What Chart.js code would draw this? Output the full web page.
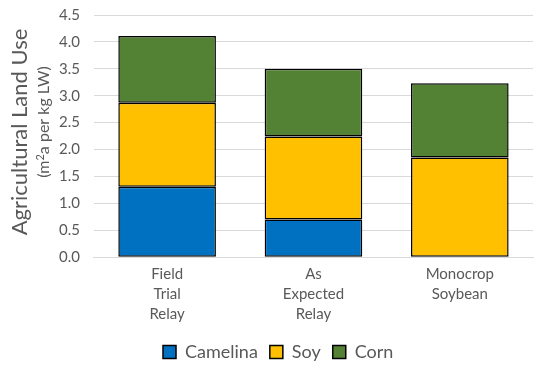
<!DOCTYPE html>
<html><head><meta charset="utf-8">
<script src="https://cdn.jsdelivr.net/npm/chart.js@4/dist/chart.umd.min.js"></script>
<style>html,body{margin:0;padding:0;background:#fff}#wrap{width:550px;height:373px}</style>
</head><body><div id="wrap"><canvas id="c"></canvas></div>
<script>
const categories = [["Field","Trial","Relay"],["As","Expected","Relay"],["Monocrop","Soybean"]];
const camelina = [1.31, 0.70, 0];
const soy = [1.56, 1.54, 1.85];
const corn = [1.24, 1.26, 1.38];
const yTicks = [0,0.5,1,1.5,2,2.5,3,3.5,4,4.5];
const yTitle = "Agricultural Land Use";
const ySub = ["(m", "2", "a per kg LW)"];

const FONT = "Lato, 'Open Sans', sans-serif";
const grey = "#595959";
const LEG_PAD = 12;

const titlePlugin = {
  id: 'ytitle',
  beforeDraw(chart) {
    const lg = chart.legend;
    if (lg) { const w = lg.right - lg.left; lg.left = 163 - LEG_PAD; lg.right = lg.left + w; }
  },
  afterDraw(chart) {
    const ctx = chart.ctx;
    ctx.save();
    ctx.fillStyle = grey;
    ctx.textAlign = 'center';
    ctx.textBaseline = 'middle';
    ctx.translate(20, 132);
    ctx.rotate(-Math.PI/2);
    ctx.font = "22px " + FONT;
    ctx.fillText(yTitle, 0, 0);
    ctx.restore();
    ctx.save();
    ctx.fillStyle = grey;
    ctx.textBaseline = 'middle';
    ctx.translate(44, 122);
    ctx.rotate(-Math.PI/2);
    const f1 = "16px " + FONT, f2 = "11px " + FONT;
    ctx.font = f1; const w0 = ctx.measureText(ySub[0]).width, w2 = ctx.measureText(ySub[2]).width;
    ctx.font = f2; const w1 = ctx.measureText(ySub[1]).width;
    let x = -(w0 + w1 + w2) / 2;
    ctx.textAlign = 'left';
    ctx.font = f1; ctx.fillText(ySub[0], x, 0); x += w0;
    ctx.font = f2; ctx.fillText(ySub[1], x, -4); x += w1;
    ctx.font = f1; ctx.fillText(ySub[2], x, 0);
    ctx.restore();
  }
};

new Chart(document.getElementById('c'), {
  type: 'bar',
  data: {
    labels: categories,
    datasets: [
      {label:'Camelina', data: camelina, backgroundColor:'#0070C0', borderColor:'#000', borderWidth:1.5, borderSkipped:false},
      {label:'Soy', data: soy, backgroundColor:'#FFC000', borderColor:'#000', borderWidth:1.5, borderSkipped:false},
      {label:'Corn', data: corn, backgroundColor:'#548235', borderColor:'#000', borderWidth:1.5, borderSkipped:false}
    ]
  },
  options: {
    responsive: true, maintainAspectRatio: false, animation: false,
    layout: {padding: {left: 45, right: 17, top: 15, bottom: 2}},
    datasets: {bar: {categoryPercentage: 0.667, barPercentage: 1.0}},
    plugins: {
      legend: {position:'bottom', align:'start', labels: {color: grey, font:{size:18, family:FONT}, boxWidth:13, boxHeight:13, padding:LEG_PAD}},
      tooltip: {enabled:false}
    },
    scales: {
      x: {stacked:true, grid:{display:false, drawTicks:false}, border:{color:'#d9d9d9'},
          ticks:{color:grey, font:{size:15, family:FONT, lineHeight:1.33}, padding:7}},
      y: {stacked:true, min:0, max:4.5, afterBuildTicks: s => { s.ticks = yTicks.map(v=>({value:v})); },
          afterFit: s => { s.paddingTop = 0; },
          grid:{color:'#d9d9d9', drawTicks:false}, border:{display:false},
          ticks:{color:grey, font:{size:15, family:FONT}, padding:14, callback: v => Number(v).toFixed(1)}}
    }
  },
  plugins: [titlePlugin]
});
</script></body></html>
